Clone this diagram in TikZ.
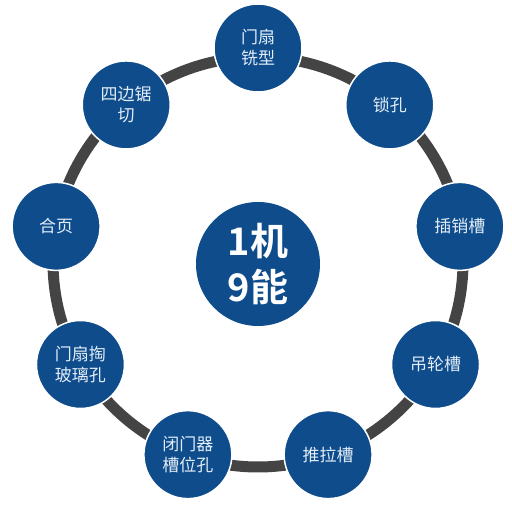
\documentclass[tikz,border=0pt]{standalone}
\usepackage{fontspec}
\usetikzlibrary{calc}
\newfontfamily\cjk{Noto Sans CJK SC}
\newfontfamily\cjkb{Noto Sans CJK SC Bold}
\definecolor{nodeblue}{HTML}{0E4C8C}
\definecolor{ringgray}{HTML}{444444}
\definecolor{txtlight}{HTML}{E2EDF8}
\begin{document}
\begin{tikzpicture}[x=1pt,y=1pt,
  item/.style={circle, fill=nodeblue, draw=white, line width=1.5pt, minimum size=88pt, inner sep=0pt, align=center, text=txtlight, font=\cjk\fontsize{17}{21}\selectfont},
  hub/.style={circle, fill=nodeblue, minimum size=124pt, inner sep=0pt, align=center, text=white, font=\cjkb\fontsize{38}{46}\selectfont}]
\useasboundingbox (0,0) rectangle (512,510);
\coordinate (c) at (258,248);
\draw[ringgray, line width=11pt] (c) circle (205);
\node[hub] (hub) at (258,246) {1机\\9能};
\node[item] (n1) at (258,462) {门扇\\铣型};
\node[item] (n2) at ($(c)+(50:205)$) {锁孔};
\node[item] (n3) at ($(c)+(10:205)$) {插销槽};
\node[item] (n4) at ($(c)+(-30:205)$) {吊轮槽};
\node[item] (n5) at ($(c)+(-70:205)$) {推拉槽};
\node[item] (n6) at ($(c)+(-110:205)$) {闭门器\\槽位孔};
\node[item] (n7) at ($(c)+(-150:205)$) {门扇掏\\玻璃孔};
\node[item] (n8) at ($(c)+(170:205)$) {合页};
\node[item] (n9) at ($(c)+(130:205)$) {四边锯\\切};
\end{tikzpicture}
\end{document}
